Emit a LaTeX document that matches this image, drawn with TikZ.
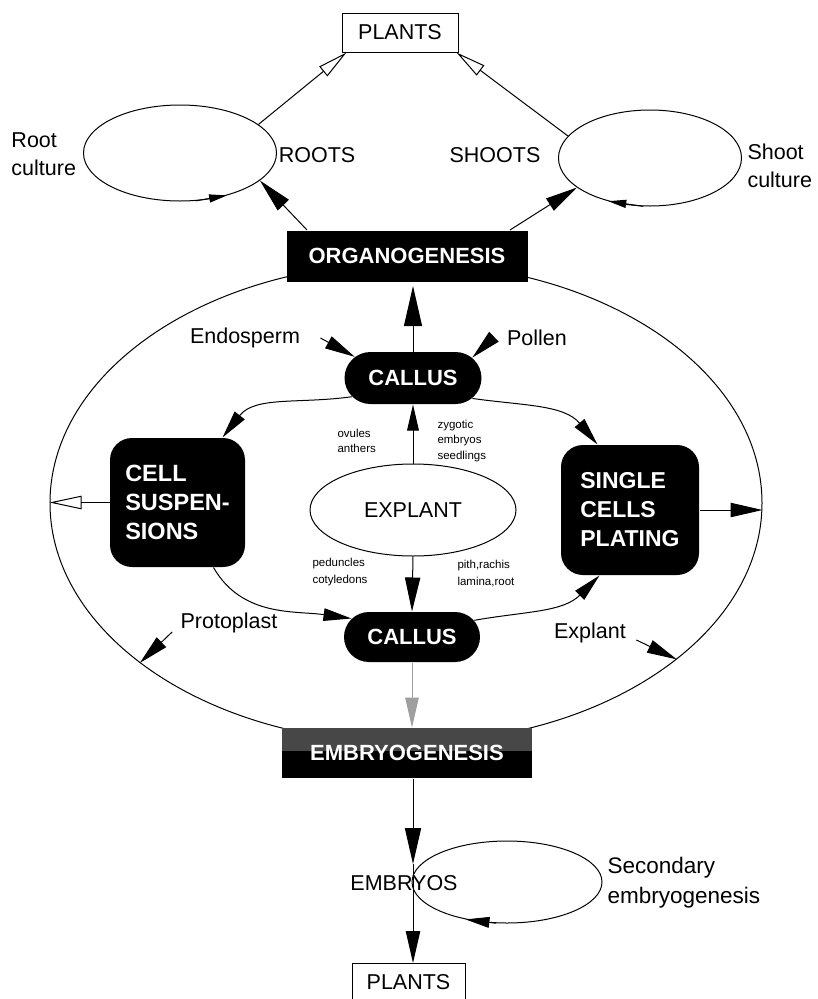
\documentclass[tikz,border=0pt]{standalone}
\usepackage{fontspec}
\setmainfont{Liberation Sans}
\usetikzlibrary{arrows.meta,shapes.geometric,shapes.misc}
\begin{document}
\begin{tikzpicture}[x=1pt,y=1pt,
  line width=1pt,
  lbl/.style={font=\fontsize{21.5}{28}\selectfont, inner sep=0pt, align=left},
  small/.style={font=\fontsize{11.5}{15.5}\selectfont, inner sep=0pt, align=left},
  plainbox/.style={draw, line width=1pt, minimum width=#1, minimum height=39pt, inner sep=0pt, font=\fontsize{21.5}{26}\selectfont},
  oval/.style={draw, ellipse, inner sep=0pt, line width=1pt},
  darkbar/.style={fill=black, text=white, inner sep=0pt, font=\bfseries\fontsize{22}{26}\selectfont},
  pill/.style={rounded rectangle, fill=black, text=white, inner sep=0pt, minimum height=52pt, font=\bfseries\fontsize{22}{26}\selectfont},
  darkround/.style={rectangle, rounded corners=22pt, fill=black, text=white, inner sep=0pt, align=left, font=\bfseries\fontsize{23.5}{29}\selectfont},
  tipf/.style={-{Triangle[length=#1,width'=0pt 0.45]}},
  tipo/.style={-{Triangle[open,length=#1,width'=0pt 0.42]}},
]
\useasboundingbox (0,0) rectangle (818,-999);
\fill[white] (0,0) rectangle (818,-999);

% big ellipse
\node[oval, minimum width=712pt, minimum height=480pt] (bigE) at (406,-503) {};

% top part
\node[plainbox=116pt] (plantsTop) at (400,-32.5) {PLANTS};
\node[oval, minimum width=193pt, minimum height=96pt] (rootE) at (180,-153) {};
\node[oval, minimum width=183pt, minimum height=96pt] (shootE) at (650,-158) {};
\node[lbl, anchor=west] (rootLbl) at (11,-154) {Root\\culture};
\node[lbl] (roots) at (317,-155) {ROOTS};
\node[lbl] (shoots) at (495,-155) {SHOOTS};
\node[lbl, anchor=west] (shootLbl) at (747,-166) {Shoot\\culture};
\node[darkbar, minimum width=241pt, minimum height=51pt] (organ) at (407,-256) {ORGANOGENESIS};

% middle
\node[lbl] (endo) at (245,-338) {Endosperm};
\node[lbl] (pollen) at (537,-338) {Pollen};
\node[pill, minimum width=137pt] (callus1) at (413,-378) {CALLUS};
\node[darkround, minimum width=135pt, minimum height=129pt] (cellS) at (177.5,-502.5) {CELL\\SUSPEN-\\SIONS};
\node[darkround, font=\bfseries\fontsize{23}{29}\selectfont, minimum width=138pt, minimum height=130pt] (singleC) at (630,-510) {SINGLE\\CELLS\\PLATING};
\node[oval, minimum width=206pt, minimum height=92pt, font=\fontsize{21.5}{26}\selectfont] (explant) at (413,-510) {EXPLANT};
\node[small, anchor=west] (ovules) at (337,-441) {ovules\\anthers};
\node[small, anchor=west] (zyg) at (437,-441) {zygotic\\embryos\\seedlings};
\node[small, anchor=west, font=\fontsize{11.5}{17}\selectfont] (ped) at (312,-572) {peduncles\\cotyledons};
\node[small, anchor=west, font=\fontsize{11.5}{17}\selectfont] (pith) at (457,-574) {pith,rachis\\lamina,root};
\node[pill, minimum width=136pt, minimum height=50pt] (callus2) at (412,-637) {CALLUS};
\node[lbl] (proto) at (229,-623) {Protoplast};
\node[lbl] (expl) at (590,-633) {Explant};

% bottom
\node[darkbar, minimum width=250pt, minimum height=50pt,
  path picture={\fill[black!72] (path picture bounding box.north west) rectangle ([yshift=-23pt]path picture bounding box.north east);}] (embryo) at (407,-753) {EMBRYOGENESIS};
\node[lbl] (embryos) at (404,-883) {EMBRYOS};
\node[oval, minimum width=190pt, minimum height=82pt] (secE) at (507,-882) {};
\node[lbl, anchor=west, font=\fontsize{22.5}{30}\selectfont] (secLbl) at (607,-883) {Secondary\\embryogenesis};
\node[plainbox=113pt, minimum height=50pt, anchor=north] (plantsBot) at (408.5,-963) {};
\node[lbl] (plantsBotT) at (408.5,-982) {PLANTS};
\coordinate (embTop) at (413,-864);

% connectors top
\draw[tipo=30pt] (rootE.20) -- ([xshift=5pt]plantsTop.south west);
\draw[tipo=30pt] (shootE.165) -- ([xshift=-2pt]plantsTop.south east);
\draw[tipf=34pt] ([xshift=21pt]organ.north west) -- (rootE.-19);
\draw[tipf=32pt] ([xshift=-18pt]organ.north east) -- (shootE.202);
\draw[tipf=18pt] (rootE.-72) -- (rootE.-42);
\draw[tipf=18pt] (shootE.262) -- (shootE.226);

% connectors middle
\draw[tipf=40pt, shorten >=4pt] (callus1.north) -- (callus1.north |- organ.south);
\draw[tipf=26pt] (explant.north) -- (callus1.south);
\draw[tipf=34pt] (explant.south) -- (callus2.north);
\draw[tipf=30pt] ([xshift=20pt]endo.east) -- (callus1.160);
\draw[tipf=30pt] ([xshift=-14pt]pollen.west) -- (callus1.19);
\draw[tipf=28pt] (callus1.197) to[out=188,in=52] ([xshift=-23pt]cellS.north east);
\draw[tipf=28pt] (callus1.-19) to[out=-8,in=130] ([xshift=37pt]singleC.north west);
\draw[tipf=28pt] ([xshift=-32pt]cellS.south east) to[out=-60,in=172] (callus2.163);
\draw[tipf=28pt] (callus2.15) to[out=10,in=225] ([xshift=39pt]singleC.south west);
\draw[tipo=32pt] (cellS.west) -- (cellS.west -| bigE.west);
\draw[tipf=32pt] (singleC.east) -- (singleC.east -| bigE.east);
\draw[tipf=30pt] ([shift={(-8pt,-9pt)}]proto.west) -- (bigE.211);
\draw[tipf=30pt] ([shift={(10pt,-7pt)}]expl.east) -- (bigE.-30);

% connectors bottom
\draw[gray!75, tipf=30pt] (callus2.south) -- (callus2.south |- embryo.north);
\draw[tipf=36pt] (embTop |- embryo.south) -- (embTop);
\draw[tipf=32pt] (embTop) -- (embTop |- plantsBot.north);
\draw[tipf=24pt] (secE.255) -- (secE.222);
\end{tikzpicture}
\end{document}
